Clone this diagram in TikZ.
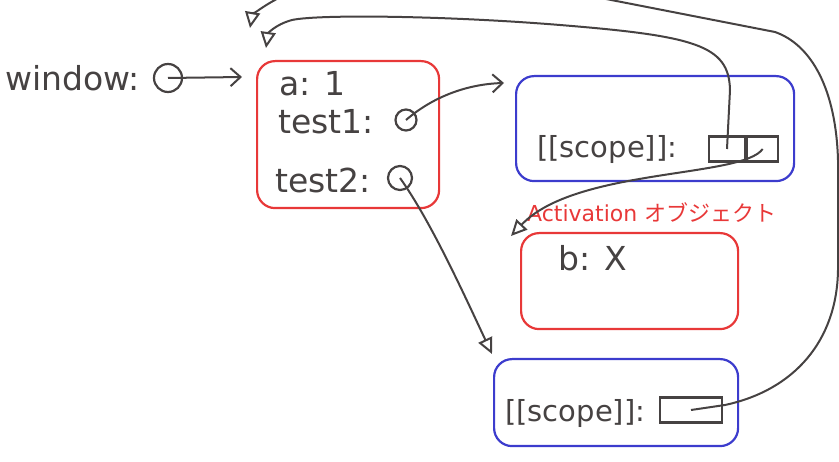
\documentclass[tikz,border=0pt]{standalone}
\usepackage{fontspec}
\setmainfont{DejaVu Sans}
\newfontfamily\jafont{Noto Sans CJK JP}
\usetikzlibrary{arrows.meta}
\definecolor{pen}{RGB}{70,66,66}
\definecolor{redpen}{RGB}{232,56,56}
\definecolor{bluepen}{RGB}{60,60,205}
\begin{document}
\begin{tikzpicture}[x=1pt,y=-1pt,
  txt/.style={text=pen,anchor=west,inner sep=0pt,font=\fontsize{33}{33}\selectfont},
  small/.style={font=\fontsize{29}{29}\selectfont},
  ptr/.style={draw=pen,line width=2pt},
  barb/.style={-{Straight Barb[length=10pt,width=18pt]}},
  tri/.style={-{Triangle[open,length=16pt,width=15pt]}},
  ref/.style={circle,draw=pen,line width=2.2pt,inner sep=0pt},
  cell/.style={draw=pen,line width=2.2pt,inner sep=0pt,minimum height=25pt},
  redbox/.style={draw=redpen,line width=2.2pt,rounded corners=18pt,anchor=north west},
  bluebox/.style={draw=bluepen,line width=2.2pt,rounded corners=18pt,anchor=north west}]
\useasboundingbox (0,0) rectangle (839,462);
\clip (0,0) rectangle (839,462);
% window
\node[txt] (win) at (5,78) {window:};
\node[ref,minimum size=28pt] (wc) at (168,78) {};
% global object
\node[redbox,minimum width=182pt,minimum height=147pt] (glob) at (256,60) {};
\node[txt] (a) at (279,84) {a: 1};
\node[txt] (t1) at (278,122) {test1:};
\node[ref,minimum size=21pt] (t1c) at (406,120) {};
\node[txt] (t2) at (275,180) {test2:};
\node[ref,minimum size=24pt] (t2c) at (400,178) {};
% test1
\node[bluebox,minimum width=278pt,minimum height=105pt] (f1) at (515,75) {};
\node[txt,small] (sc1) at (537,150) {[[scope]]:};
\node[cell,minimum width=36pt] (s1a) at (727,149) {};
\node[cell,minimum width=31pt,anchor=west] (s1b) at (s1a.east) {};
% activation object
\node[text=redpen,anchor=west,inner sep=0pt,font=\fontsize{22}{22}\selectfont] (actlbl) at (527,213) {Activation {\jafont オブジェクト}};
\node[redbox,minimum width=217pt,minimum height=96pt] (act) at (520,232) {};
\node[txt] (b) at (558,258) {b: X};
% test2
\node[bluebox,minimum width=244pt,minimum height=87pt] (f2) at (493,358) {};
\node[txt,small] (sc2) at (505,414) {[[scope]]:};
\node[cell,minimum width=62pt] (s2) at (691,410) {};
% arrow ends
\coordinate (winend) at (242,77);
\coordinate (f1in) at (504,83);
\coordinate (f2in) at (492,354);
\coordinate (actin) at (511,236);
\coordinate (globin1) at (266,48);
\coordinate (globin2) at (250,28);
% pointers
\draw[ptr,barb] (wc.center) -- (winend);
\draw[ptr,barb] (t1c.center) .. controls (435,95) and (470,84) .. (f1in);
\draw[ptr,tri] (t2c.center) .. controls (430,220) and (462,290) .. (f2in);
\draw[ptr,tri] (s1b.center) .. controls (742,178) and (575,168) .. (actin);
\draw[ptr,tri] (s1a.center) -- (730,90) .. controls (729,45) and (695,36) .. (560,25)
  .. controls (450,16) and (320,14) .. (292,20) .. controls (274,25) and (268,34) .. (globin1);
\draw[ptr,tri] (s2.center) -- (725,405) .. controls (795,390) and (837,340) .. (838,270)
  -- (838,160) .. controls (836,90) and (812,45) .. (775,32) -- (560,-10)
  .. controls (450,-30) and (300,-20) .. (275,0) .. controls (260,8) and (252,16) .. (globin2);
\end{tikzpicture}
\end{document}
